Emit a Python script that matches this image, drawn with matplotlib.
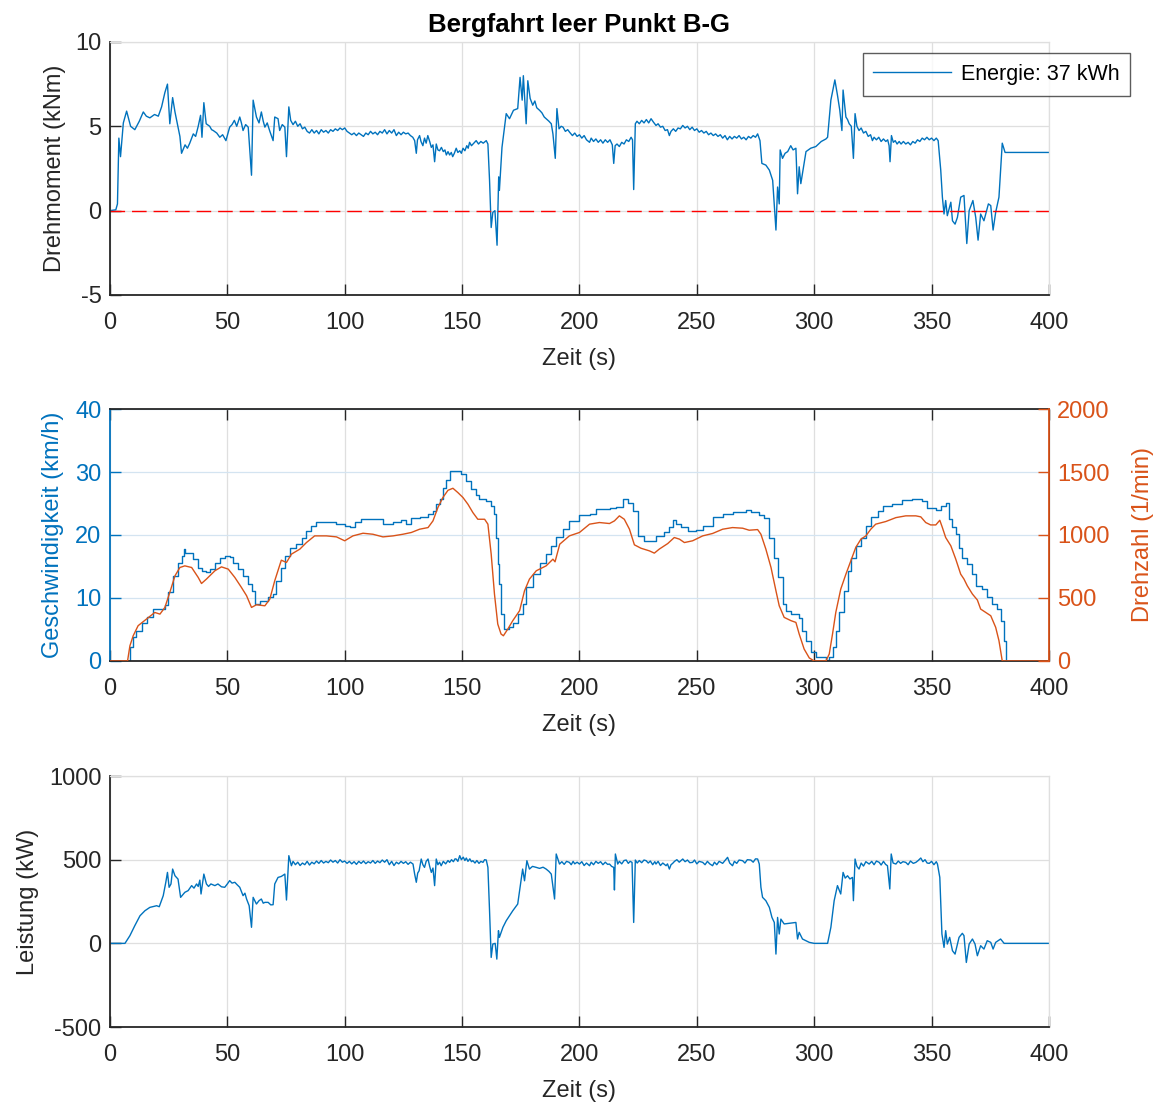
import numpy as np
import matplotlib
matplotlib.use("Agg")
import matplotlib.pyplot as plt

plt.rcParams['font.family'] = ['Liberation Sans', 'DejaVu Sans']
plt.rcParams['axes.unicode_minus'] = False

# Drehmoment (kNm): (Zeit s, Wert)
torque_pts = [
    (0, 0), (2.5, 0.05), (3.2, 0.4), (3.8, 4.3), (4.5, 3.2), (5.7, 5.2), (7.1, 5.9), (8.8, 5.0), (10.6, 4.8),
    (12.5, 5.3), (14.2, 5.85), (15.5, 5.6), (17, 5.5), (19, 5.7), (20.6, 5.6), (22, 6.15), (23.4, 7.0),
    (24.5, 7.5), (25.5, 5.15), (26.7, 6.7), (27.7, 5.85), (29.8, 4.4), (30.5, 3.4), (32, 3.9), (33, 3.7),
    (34, 4.0), (35.5, 4.55), (36.5, 4.4), (37.6, 5.0), (38.6, 5.65), (39.2, 4.35), (40, 6.4), (41, 5.15),
    (42.5, 5.0), (43.3, 4.8), (44, 4.75), (45.5, 4.6), (46.8, 4.35), (48, 4.5), (49.4, 4.15), (51, 4.95),
    (52, 5.1), (53, 5.35), (54, 5.0), (55.3, 5.55), (56, 5.2), (56.7, 4.75), (57.8, 5.1), (58.9, 4.95),
    (60.3, 2.1), (61, 6.55), (62.4, 5.55), (63.5, 5.2), (64.5, 5.85), (65.3, 5.3), (66, 4.95), (67, 5.2),
    (68, 4.75), (69.5, 4.15), (70.2, 5.55), (71.6, 5.45), (72.3, 4.75), (73.4, 5.1), (74.5, 4.95), (75.2, 3.2),
    (76.2, 6.15), (77, 5.35), (78, 5.1), (79, 5.3), (80, 5.0), (81, 5.15), (82, 4.85), (83, 4.95), (84, 4.7),
    (85, 4.6), (86, 4.8), (87, 4.6), (88, 4.75), (89, 4.55), (90, 4.8), (91, 4.65), (92, 4.75), (93, 4.6),
    (94, 4.8), (95, 4.7), (96, 4.85), (97, 4.75), (98, 4.9), (99, 4.8), (100, 4.9), (101, 4.7), (102, 4.6),
    (103, 4.5), (104, 4.6), (105, 4.45), (106, 4.6), (107, 4.5), (108, 4.4), (109, 4.6), (110, 4.5),
    (111, 4.7), (112, 4.55), (113, 4.65), (114, 4.5), (115, 4.7), (116, 4.6), (117, 4.8), (118, 4.55),
    (119, 4.75), (120, 4.6), (121, 4.8), (122, 4.45), (123, 4.65), (124, 4.5), (125, 4.65), (126, 4.55),
    (127, 4.6), (128, 4.45), (129, 4.35), (129.8, 4.15), (130.5, 3.4), (131, 4.2), (131.9, 4.45), (132.5, 4.1),
    (133.3, 3.85), (134, 4.3), (134.7, 4.0), (135.4, 4.45), (136.2, 4.1), (136.9, 3.75), (137.6, 3.9),
    (138.3, 2.9), (139, 3.95), (139.7, 3.6), (140.4, 3.55), (141.2, 3.75), (142, 3.5), (142.7, 3.6),
    (143.3, 3.3), (144, 3.5), (144.7, 3.3), (145.4, 3.45), (146, 3.2), (146.7, 3.4), (147.5, 3.7),
    (148.2, 3.45), (149, 3.55), (149.7, 3.4), (150.4, 3.7), (151.2, 3.55), (152, 3.85), (152.6, 3.7),
    (153.2, 4.05), (154, 3.85), (155, 4.0), (156, 4.15), (157, 3.95), (158, 4.1), (159, 4.0), (160.3, 4.15),
    (161, 3.95), (161.7, 1.8), (162.4, -1.0), (163.1, -0.1), (164, 0.0), (164.9, -2.05), (165.6, 2.0),
    (165.9, 1.2), (167, 3.75), (168.8, 5.75), (170.2, 5.45), (171.9, 5.95), (173.7, 6.05), (174.7, 7.9),
    (175.6, 6.55), (176.1, 8.0), (177.3, 5.15), (178, 7.7), (179, 6.65), (180.1, 6.25), (181, 6.5),
    (181.8, 6.1), (183, 5.95), (184, 5.8), (185, 5.55), (185.8, 5.45), (187, 5.3), (188, 5.15), (188.7, 4.55),
    (189.7, 3.1), (190.4, 6.05), (191.3, 4.85), (192.2, 5.0), (193, 4.95), (194, 4.7), (195, 4.8),
    (195.8, 4.65), (197, 4.45), (198, 4.6), (199, 4.4), (200, 4.5), (201, 4.3), (202, 4.45), (203, 4.2),
    (204.3, 4.05), (205, 4.3), (206, 4.1), (207, 4.25), (208, 4.05), (209, 4.2), (210, 4.0), (211, 4.2),
    (212, 4.05), (213, 4.2), (214, 3.9), (214.6, 2.8), (215.2, 3.85), (216, 3.95), (217, 3.8), (218, 4.05),
    (219, 3.95), (220, 4.2), (221, 4.1), (222, 4.35), (222.6, 4.2), (223.1, 1.25), (223.8, 5.15),
    (224.5, 5.3), (225.5, 5.15), (226.5, 5.35), (227.5, 5.2), (228.5, 5.4), (229.5, 5.2), (230.5, 5.45),
    (231.5, 5.25), (232.6, 5.05), (233.5, 5.15), (234.5, 4.95), (235.5, 5.0), (236.5, 4.75), (237.5, 4.8),
    (238.3, 4.45), (239, 4.7), (240, 4.85), (241, 4.7), (242, 4.9), (243, 4.85), (244, 5.05), (245, 4.9),
    (246, 5.0), (247, 4.8), (248, 4.95), (249, 4.75), (250, 4.85), (251, 4.65), (252, 4.75), (253, 4.6),
    (254, 4.7), (255, 4.5), (256, 4.6), (257, 4.45), (258, 4.55), (259, 4.4), (260, 4.5), (261, 4.3),
    (262, 4.45), (263, 4.2), (264, 4.4), (265, 4.25), (266, 4.4), (267, 4.3), (268, 4.45), (269, 4.25),
    (270, 4.35), (271, 4.2), (272, 4.4), (273, 4.3), (274, 4.45), (275, 4.35), (275.9, 4.55), (276.9, 4.15),
    (277.7, 2.8), (279.4, 2.7), (280.9, 2.4), (282.3, 1.8), (283.7, -1.15), (284.4, 1.4), (285.1, 0.4),
    (285.5, 3.6), (286.5, 3.1), (287.6, 3.4), (288.7, 3.5), (290, 3.85), (291, 3.6), (292.2, 3.7),
    (292.9, 1.0), (293.6, 2.6), (294.3, 1.6), (296.5, 3.5), (298.5, 3.7), (300.7, 3.8), (303, 4.1),
    (305, 4.25), (305.7, 4.35), (307.1, 6.55), (308.8, 7.75), (309.9, 6.85), (310.9, 5.95), (311.8, 4.75),
    (312.3, 7.15), (313.5, 5.55), (314.2, 5.4), (314.9, 5.15), (315.8, 5.0), (316.7, 3.1), (317.4, 5.75),
    (318.2, 5.0), (319.1, 4.75), (320, 4.9), (321, 4.6), (322, 4.7), (323, 4.4), (324, 4.5), (324.8, 4.15),
    (325.5, 4.35), (326.5, 4.2), (327.5, 4.35), (328.5, 4.1), (329.5, 4.25), (330.5, 4.1), (331.3, 4.2),
    (331.9, 3.85), (332.3, 2.9), (332.9, 4.45), (333.7, 4.05), (334.5, 4.15), (335.3, 3.95), (336.2, 4.1),
    (337, 3.95), (338, 4.1), (339, 3.95), (340, 4.05), (341, 3.9), (342, 4.1), (343, 4.0), (344, 4.2),
    (345, 4.1), (346, 4.3), (347, 4.2), (348, 4.35), (349, 4.2), (350, 4.3), (351, 4.15), (352, 4.3),
    (352.8, 4.15), (353.9, 2.4), (354.6, 0.8), (355.3, -0.2), (356, 0.6), (356.7, -0.3), (358.2, 0.5),
    (358.9, -0.6), (360, -0.8), (361, -0.4), (362.4, 0.8), (363.8, 0.9), (365, -1.95), (366, 0.0),
    (367.6, 0.6), (368.8, -0.4), (369.8, -1.75), (370.9, -0.2), (372.3, -0.6), (374.2, 0.4), (375.2, 0.3),
    (376.2, -1.15), (377.3, -0.1), (378.7, 0.8), (380.1, 4.0), (381.3, 3.45), (400, 3.45),
]

# Geschwindigkeit (km/h)
speed_pts = [
    (0, 0), (7, 0), (8.5, 2.2), (9.9, 3.75), (11.3, 4.8), (13.5, 6.1), (15.6, 7.0), (18.4, 8.2), (23.4, 8.9),
    (24.8, 10.9), (26.9, 13.5), (29, 15.6), (30.5, 16.7), (31.5, 17.75), (32, 17.1), (34, 17.1), (35.5, 16.2),
    (37.6, 14.8), (39, 14.3), (41.1, 14.05), (42.6, 14.6), (44.7, 15.5), (46.8, 16.4), (48.9, 16.6),
    (51, 16.5), (52.5, 15.6), (54.6, 14.6), (56.7, 13.5), (58.9, 12.2), (60.7, 11.1), (61.7, 9.1),
    (63.8, 9.55), (66.7, 9.55), (67.4, 10.2), (69.5, 10.7), (70.9, 12.7), (73, 14.8), (74.5, 16.6),
    (76.6, 18.0), (79.4, 18.5), (81.6, 19.6), (83.7, 20.65), (85.8, 21.45), (87.9, 22.0), (92.2, 22.1),
    (96.5, 21.8), (100, 21.45), (102.1, 21.3), (104.3, 22.0), (107.1, 22.5), (112, 22.5), (116.3, 21.8),
    (120.6, 22.0), (124.1, 22.35), (126.2, 21.8), (128.4, 22.65), (131.9, 22.9), (135.5, 23.3),
    (137.6, 23.8), (139, 24.9), (140.4, 25.7), (141.8, 27.5), (143.3, 28.8), (144.7, 30.2), (147.5, 30.2),
    (149.6, 29.7), (151.8, 28.6), (153.9, 27.3), (156, 26.3), (157.4, 25.7), (160.3, 25.4), (162.4, 24.6),
    (163.4, 23.3), (164.3, 19.6), (165.2, 15.4), (165.9, 12.2), (166.6, 7.45), (168, 5.1), (170.2, 5.35),
    (171.6, 6.1), (173.7, 7.45), (175.8, 9.0), (177.3, 11.7), (180.1, 13.8), (183, 15.6), (185.8, 17.0),
    (188, 18.3), (190.1, 19.7), (192.9, 20.9), (195.7, 22.2), (200, 23.1), (204.3, 23.4), (207.1, 24.2),
    (212.8, 24.35), (215.6, 24.45), (218.4, 25.7), (220.6, 25.1), (222.7, 23.8), (224.8, 19.9),
    (227.7, 19.0), (231.2, 19.1), (232.6, 19.9), (236.2, 20.4), (238.3, 21.2), (239.7, 22.35),
    (241.1, 21.8), (243.3, 21.2), (246.1, 20.65), (249.6, 20.8), (252.5, 21.45), (256.7, 22.8), (261, 23.4),
    (265.2, 23.7), (270.9, 24.0), (273, 23.6), (276.6, 23.2), (278.7, 22.65), (280.9, 19.6), (283, 16.4),
    (284.4, 13.3), (286.5, 9.0), (288, 8.0), (290.1, 7.45), (293.6, 6.9), (295, 4.8), (296.7, 3.2),
    (298.6, 1.4), (300.7, 0.6), (305, 0.2), (306.4, 0.6), (307.8, 2.2), (309.2, 4.8), (310.6, 7.7),
    (312.8, 11.1), (314.2, 14.3), (315.6, 16.4), (317.7, 18.3), (319.9, 19.6), (322, 21.45), (324.1, 22.8),
    (327, 23.8), (329.1, 24.6), (333.3, 25.0), (337.6, 25.5), (341.8, 25.7), (346.1, 25.4), (348.2, 24.35),
    (351.8, 24.0), (353.9, 24.6), (356, 25.1), (357.4, 22.5), (358.9, 21.2), (360.3, 20.1), (361.7, 18.0),
    (363.1, 16.4), (365.2, 15.4), (367.4, 13.8), (368.8, 11.9), (371.6, 11.4), (373.8, 10.1), (375.9, 9.0),
    (378, 8.2), (379.4, 6.4), (380.9, 3.2), (381.8, 0), (400, 0),
]

# Drehzahl (1/min)
rpm_pts = [
    (0, 0), (7.5, 0), (8.5, 120), (9.9, 200), (12, 280), (15.6, 333), (19.1, 385), (21.3, 372), (23.4, 425),
    (25.5, 544), (27.7, 676), (29.8, 742), (31.9, 755), (34.8, 742), (37.6, 663), (39, 615), (41.1, 650),
    (44.7, 716), (47.5, 747), (50.4, 729), (53.2, 663), (56, 584), (58.2, 518), (60.3, 425), (62.4, 446),
    (66, 438), (68.1, 491), (70.2, 637), (73, 800), (75.2, 782), (77.3, 848), (80.9, 888), (83.7, 940),
    (87.2, 993), (92.2, 993), (96.5, 985), (100, 954), (103.5, 993), (107.8, 1014), (112, 1006),
    (116.3, 985), (120.6, 993), (124.8, 1006), (128.4, 1020), (131.9, 1046), (135.5, 1059), (137.6, 1112),
    (139.7, 1218), (141.8, 1297), (144, 1355), (146.1, 1371), (148.2, 1337), (150.4, 1297), (152.5, 1244),
    (154.6, 1178), (156.7, 1125), (159.6, 1125), (161, 1086), (162.4, 848), (163.8, 531), (165.2, 293),
    (166.6, 214), (167.6, 200), (169.5, 254), (171.6, 320), (174.5, 399), (176.6, 557), (178.7, 650),
    (181.6, 716), (185.8, 755), (188.7, 808), (189.6, 787), (191.6, 927), (195.7, 993), (200, 1020),
    (204.3, 1086), (208.5, 1099), (212.8, 1091), (214.9, 1112), (217, 1152), (219.1, 1125), (221.3, 1046),
    (223.4, 922), (226.2, 895), (229.8, 874), (231.9, 856), (234, 888), (237.6, 932), (240.4, 980),
    (242.6, 967), (244.7, 940), (248.2, 954), (252.5, 993), (256.7, 1012), (261, 1046), (265.2, 1059),
    (269.5, 1054), (272.3, 1038), (275.9, 1043), (277.3, 1006), (279.4, 888), (281.6, 742), (283.7, 557),
    (285.1, 438), (287.2, 346), (290.1, 320), (292.2, 306), (293.6, 214), (295.7, 95), (297.9, 24),
    (300, 0), (305, 0), (306.4, 55), (307.8, 214), (309.2, 386), (311.3, 570), (313.5, 689), (315.6, 795),
    (317.7, 901), (319.9, 967), (322, 993), (324.1, 1046), (326.2, 1086), (330.5, 1107), (334.8, 1138),
    (339, 1152), (343.3, 1152), (345.4, 1144), (347.5, 1099), (349.6, 1080), (351.8, 1080), (353.5, 1117),
    (354.6, 1059), (356, 980), (358.2, 914), (360.3, 808), (362.4, 689), (363.8, 650), (365.2, 597),
    (367.4, 531), (369.5, 484), (370.9, 412), (373, 386), (375.2, 359), (377.3, 267), (378.7, 161),
    (380.1, 0), (400, 0),
]

# Leistung (kW)
power_pts = [
    (0, 0), (6.4, 0), (8.5, 46), (10.6, 106), (12.8, 165), (14.9, 195), (17, 215), (19.9, 225), (21, 219),
    (22.7, 285), (23.8, 365), (24.5, 424), (25.2, 335), (26, 355), (26.7, 444), (27.7, 404), (29, 384),
    (30.1, 275), (31.9, 305), (33.3, 315), (34.8, 345), (35.8, 330), (36.9, 355), (37.6, 340), (38.3, 378),
    (38.8, 295), (40, 414), (41.1, 355), (42, 340), (43, 355), (44.7, 345), (46, 355), (47.5, 338),
    (48.9, 335), (50, 355), (51, 375), (52, 360), (53.2, 365), (54.2, 350), (55.3, 335), (56.7, 285),
    (57.5, 300), (58.2, 265), (59.3, 225), (60.3, 96), (61, 275), (62.4, 235), (63.5, 255), (64.5, 265),
    (65.3, 240), (66, 245), (67.4, 245), (68.5, 230), (69.5, 231), (70.2, 355), (71.6, 394), (73, 400),
    (74.5, 414), (75.2, 259), (76.2, 524), (77.3, 464), (78, 490), (79, 470), (80, 485), (81, 465),
    (82, 480), (83, 470), (84, 490), (85, 468), (86, 485), (87, 475), (88, 492), (89, 478), (90, 495),
    (91, 480), (92, 490), (93, 482), (94, 498), (95, 485), (96, 495), (97, 480), (98, 500), (99, 485),
    (100, 492), (101, 478), (102, 490), (103, 475), (104, 488), (105, 472), (106, 490), (107, 478),
    (108, 492), (109, 476), (110, 488), (111, 480), (112, 495), (113, 478), (114, 492), (115, 482),
    (116, 498), (117, 485), (118, 500), (119, 470), (120, 490), (121, 465), (122, 485), (123, 475),
    (124, 490), (125, 478), (126, 488), (127, 472), (128, 485), (129.1, 474), (129.8, 414), (130.5, 365),
    (131.1, 420), (131.7, 434), (132.6, 504), (133.3, 470), (134, 454), (134.7, 490), (135.5, 504),
    (136.2, 460), (136.9, 424), (137.6, 450), (138.3, 345), (139, 504), (139.7, 470), (140.4, 485),
    (141.1, 464), (142, 490), (143, 475), (144, 495), (144.7, 484), (145.5, 500), (146.3, 488), (147, 505),
    (147.5, 504), (148.2, 490), (149, 524), (149.7, 500), (150.5, 515), (151.2, 495), (151.8, 510),
    (152.5, 490), (153.3, 505), (154, 488), (154.6, 494), (155.5, 480), (156.3, 495), (157.2, 478),
    (158, 490), (158.9, 484), (159.6, 500), (160.3, 498), (161, 454), (161.7, 195), (162.4, -84),
    (163.1, -4), (164.1, 0), (164.8, -94), (165.5, 76), (165.9, 36), (167.4, 96), (168.8, 135),
    (171.6, 195), (173.7, 235), (174.7, 335), (175.8, 444), (176.6, 374), (177.6, 494), (178.7, 444),
    (180, 460), (181.6, 454), (183, 448), (184.5, 455), (185.8, 444), (187, 430), (188, 414), (189.4, 265),
    (190.1, 534), (191.5, 474), (192.5, 488), (193.5, 472), (194.5, 490), (195.7, 484), (196.5, 470),
    (197.3, 490), (198, 475), (199, 485), (200, 474), (201, 488), (202, 465), (203, 480), (204.3, 464),
    (205, 485), (206, 470), (207, 490), (208, 478), (209, 488), (210, 470), (211, 485), (212, 472),
    (212.8, 474), (213.7, 460), (214.6, 454), (214.9, 319), (215.3, 534), (216.3, 474), (217, 490),
    (218, 475), (219, 495), (219.9, 498), (220.8, 478), (221.6, 490), (222.4, 484), (223.1, 125),
    (223.8, 498), (224.6, 480), (225.5, 495), (226.5, 482), (227.5, 498), (228.4, 494), (229.3, 480),
    (230.2, 492), (231.2, 470), (232.1, 488), (232.6, 474), (233.5, 490), (234.5, 465), (235.5, 480),
    (236.9, 464), (237.5, 475), (238.3, 444), (239, 470), (239.7, 478), (240.5, 490), (241.5, 500),
    (242.5, 485), (243.3, 495), (244, 504), (245, 488), (246, 498), (247, 482), (248.2, 484), (249, 498),
    (250, 475), (251, 490), (252.5, 484), (253.5, 470), (254.5, 490), (255.5, 475), (256.7, 464),
    (257.5, 485), (258.5, 470), (259.5, 490), (261, 478), (262, 495), (263.1, 514), (264, 480),
    (265.2, 464), (266, 490), (267, 478), (268, 498), (269.5, 494), (270.5, 480), (271.5, 500), (273, 498),
    (274, 485), (275, 505), (275.9, 504), (276.6, 474), (277.3, 335), (278, 275), (279.4, 255),
    (280.9, 215), (282, 155), (283, 125), (283.7, -64), (284.4, 155), (285.1, 56), (285.8, 145),
    (287.2, 116), (289.4, 120), (292.2, 125), (292.9, 26), (293.6, 66), (295, 26), (297.9, 6), (300, 0),
    (305.7, 0), (307.1, 96), (308.5, 255), (309.9, 345), (311.3, 295), (312.3, 424), (313.2, 390),
    (314.2, 404), (315.2, 385), (316.3, 394), (316.7, 255), (317.4, 504), (318.2, 460), (319.1, 444),
    (320, 480), (321, 462), (322, 488), (323.4, 474), (324.5, 490), (325.5, 470), (326.5, 492),
    (327.7, 484), (328.5, 468), (329.5, 490), (330.4, 472), (331.2, 464), (332.2, 325), (332.8, 534),
    (333.6, 480), (334.8, 474), (335.8, 492), (336.8, 478), (337.8, 488), (339, 484), (340, 470),
    (341, 492), (342.2, 478), (343.3, 484), (344.3, 495), (345.4, 510), (346.3, 488), (347.2, 500),
    (348.1, 480), (349, 478), (350, 490), (351, 470), (352, 488), (352.5, 474), (353.5, 394), (354.4, 56),
    (355.3, -24), (356, 76), (356.7, -4), (357.7, 36), (358.9, -44), (360, -64), (361.7, 36), (363.1, 60),
    (363.8, 46), (364.8, -114), (366, -4), (367.4, 26), (368.5, -4), (369.5, -74), (370.9, -14),
    (372.3, -34), (373.7, 16), (375.2, 6), (376.2, -34), (377.3, 6), (379.4, 26), (380.9, 0), (400, 0),
]

torque_t, torque = zip(*torque_pts)
speed_t, speed = zip(*speed_pts)
rpm_t, rpm = zip(*rpm_pts)
power_t, power = zip(*power_pts)

xticks = np.arange(0, 401, 50)
BLUE = '#0072BD'
ORANGE = '#D95319'
DARK = '#262626'
GRID = '#dfdfdf'
FS = 17


def style(ax, ycolor=DARK, box_gray=True):
    ax.set_xlim(0, 400)
    ax.set_xticks(xticks)
    ax.grid(True, color=GRID, lw=0.9)
    ax.set_axisbelow(True)
    ax.tick_params(direction='in', length=8, width=1, labelsize=FS, colors=DARK)
    ax.tick_params(axis='x', pad=12)
    ax.tick_params(axis='y', colors=ycolor, pad=6)
    ax.spines['bottom'].set_color(DARK)
    ax.spines['left'].set_color(ycolor)
    for s in ['bottom', 'left']:
        ax.spines[s].set_linewidth(1.3)
    if box_gray:
        for s in ['top', 'right']:
            ax.spines[s].set_color(GRID)
            ax.spines[s].set_linewidth(0.9)
    ax.set_xlabel('Zeit (s)', fontsize=FS, color=DARK, labelpad=10)


fig = plt.figure(figsize=(11.61, 11.04), dpi=100)

# --- Drehmoment ---
ax1 = fig.add_axes([0.0947, 0.7328, 0.8088, 0.2292])
ax1.plot(torque_t, torque, color=BLUE, lw=1.0, label='Energie: 37 kWh')
ax1.axhline(0, color='red', lw=1.0, ls=(0, (10.5, 5)))
ax1.set_ylim(-5, 10)
ax1.set_yticks([-5, 0, 5, 10])
style(ax1)
ax1.set_ylabel('Drehmoment (kNm)', fontsize=FS, color=DARK, labelpad=7)
ax1.set_title('Bergfahrt leer Punkt B-G', fontsize=18.5, fontweight='bold', color='black', pad=7)
leg = ax1.legend(loc='upper right', bbox_to_anchor=(1130 / 1161, 1 - 53 / 1104),
                 bbox_transform=fig.transFigure, fontsize=15.5, frameon=True, fancybox=False,
                 handlelength=3.6, handletextpad=0.45, borderpad=0.5, borderaxespad=0)
leg.get_frame().set_edgecolor('#333333')
leg.get_frame().set_linewidth(1.0)

# --- Geschwindigkeit / Drehzahl ---
ax2 = fig.add_axes([0.0947, 0.4013, 0.8088, 0.2282])
ax2.plot(speed_t, speed, color=BLUE, lw=1.0, drawstyle='steps-post')
ax2.set_ylim(0, 40)
ax2.set_yticks([0, 10, 20, 30, 40])
style(ax2, ycolor=BLUE, box_gray=False)
ax2.grid(axis='y', color='#d4e4f1', lw=0.9)
ax2.tick_params(top=True)
ax2.spines['top'].set_color(DARK)
ax2.spines['top'].set_linewidth(1.3)
ax2.set_ylabel('Geschwindigkeit (km/h)', fontsize=FS, color=BLUE, labelpad=8)

ax2r = ax2.twinx()
ax2r.plot(rpm_t, rpm, color=ORANGE, lw=1.0)
ax2r.set_ylim(0, 2000)
ax2r.set_yticks([0, 500, 1000, 1500, 2000])
ax2r.tick_params(direction='in', length=8, width=1, labelsize=FS, colors=ORANGE, pad=6)
ax2r.spines['right'].set_color(ORANGE)
ax2r.spines['right'].set_linewidth(1.3)
ax2r.spines['left'].set_visible(False)
ax2r.spines['top'].set_visible(False)
ax2r.spines['bottom'].set_visible(False)
ax2r.set_ylabel('Drehzahl (1/min)', fontsize=FS, color=ORANGE, labelpad=16)

# --- Leistung ---
ax3 = fig.add_axes([0.0947, 0.0697, 0.8088, 0.2274])
ax3.plot(power_t, power, color=BLUE, lw=1.0)
ax3.set_ylim(-500, 1000)
ax3.set_yticks([-500, 0, 500, 1000])
style(ax3)
ax3.set_ylabel('Leistung (kW)', fontsize=FS, color=DARK, labelpad=7)

fig.savefig('out.png', dpi=100)
